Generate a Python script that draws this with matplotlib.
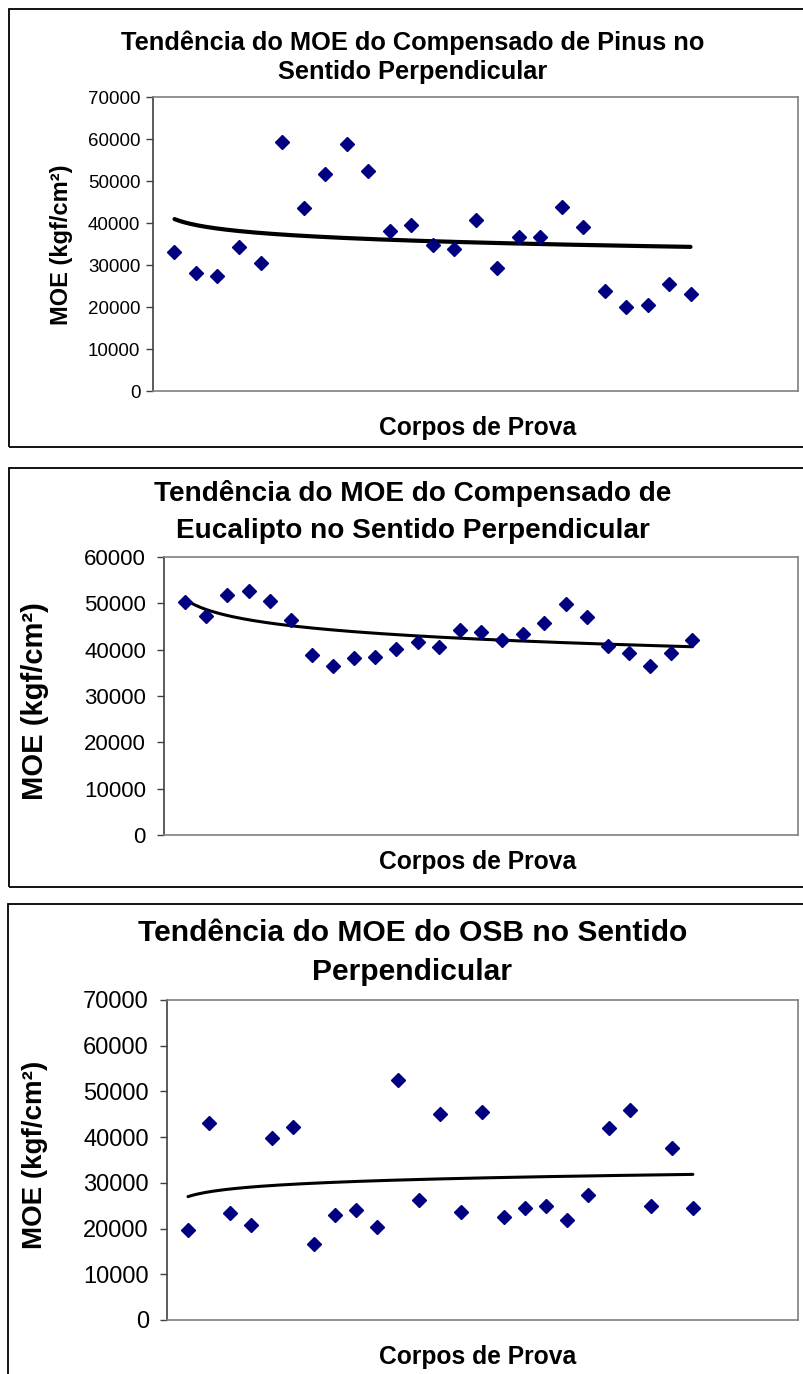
import matplotlib
matplotlib.use("Agg")
import matplotlib.pyplot as plt
import numpy as np

# figure size in pixels
W, H = 804, 1374

# specimen numbers (Corpos de Prova)
corpos = np.arange(1, 26)

# MOE values (kgf/cm2)
moe_pinus = [33000, 28100, 27500, 34300, 30400, 59200, 43500, 51600, 58900, 52300,
             38100, 39600, 34700, 33800, 40700, 29200, 36600, 36600, 43900, 39100,
             23900, 20100, 20500, 25400, 23100]
moe_eucalipto = [50300, 47300, 51900, 52700, 50600, 46300, 38900, 36400, 38100, 38500,
                 40200, 41600, 40500, 44200, 43800, 42100, 43300, 45700, 49900, 47000,
                 40800, 39300, 36400, 39300, 42100]
moe_osb = [19600, 43100, 23300, 20800, 39800, 42300, 16600, 22900, 24100, 20400,
           52600, 26200, 45100, 23700, 45500, 22500, 24600, 25000, 21800, 27400,
           41900, 46000, 25000, 37700, 24500]

titles = ["Tendência do MOE do Compensado de Pinus no\nSentido Perpendicular",
          "Tendência do MOE do Compensado de\nEucalipto no Sentido Perpendicular",
          "Tendência do MOE do OSB no Sentido\nPerpendicular"]
y_max = [70000, 60000, 70000]
ylabel = "MOE (kgf/cm²)"
xlabel = "Corpos de Prova"

plt.rcParams['font.family'] = ['Liberation Sans', 'DejaVu Sans']

fig = plt.figure(figsize=(W / 100, H / 100), dpi=100)


def px_rect(l, t, r, b):
    return [l / W, 1 - b / H, (r - l) / W, (b - t) / H]


def fx(x):
    return x / W


def fy(y):
    return 1 - y / H


# outer chart frames (left, top, right, bottom) in pixels
frames = [(9, 9, 808, 447), (9, 468, 808, 887), (8, 904, 808, 1380)]
for l, t, r, b in frames:
    fig.add_artist(plt.Rectangle((fx(l), fy(b)), (r - l) / W, (b - t) / H,
                                 transform=fig.transFigure, fill=False,
                                 ec='black', lw=1.3))

# plot areas
areas = [(153, 97, 798, 391), (164, 557, 798, 835), (167, 1000, 798, 1320)]
tick_fs = [13.5, 16, 17]
tick_pad = [4, 8, 8]
title_fs = [18.3, 20.2, 21.6]
title_y = [(43, 72), (493, 531), (933, 972)]
ylab_pos = [(62, 245), (35, 701), (35, 1155)]
ylab_fs = [17, 21, 20]
xlab_y = [428, 862, 1357]
lws = [3.0, 2.2, 2.2]

datasets = [moe_pinus, moe_eucalipto, moe_osb]

for i, vals in enumerate(datasets):
    ax = fig.add_axes(px_rect(*areas[i]))
    vals = np.array(vals, dtype=float)
    ax.plot(corpos, vals, linestyle='none', marker='D', ms=7.5,
            color='#000080', zorder=3)

    # logarithmic trend line fitted to the data
    b, a = np.polyfit(np.log(corpos), vals, 1)
    xx = np.linspace(1, 25, 200)
    ax.plot(xx, a + b * np.log(xx), color='black', lw=lws[i],
            solid_capstyle='round', zorder=2)

    ax.set_xlim(0, 30)
    ax.set_ylim(0, y_max[i])
    ax.set_yticks(np.arange(0, y_max[i] + 1, 10000))
    ax.set_xticks([])
    for s in ax.spines.values():
        s.set_color('#808080')
        s.set_linewidth(1.2)
    ax.spines['left'].set_color('#404040')
    ax.tick_params(axis='y', direction='out', length=5, width=1,
                   color='#404040', labelsize=tick_fs[i], pad=tick_pad[i])

    l1, l2 = titles[i].split('\n')
    fig.text(0.513, fy(title_y[i][0]), l1, ha='center', va='center',
             fontsize=title_fs[i], fontweight='bold')
    fig.text(0.513, fy(title_y[i][1]), l2, ha='center', va='center',
             fontsize=title_fs[i], fontweight='bold')

    fig.text(fx(ylab_pos[i][0]), fy(ylab_pos[i][1]), ylabel, rotation=90,
             ha='center', va='center', fontsize=ylab_fs[i], fontweight='bold')
    fig.text(fx(478), fy(xlab_y[i]), xlabel, ha='center', va='center',
             fontsize=17.7, fontweight='bold')

fig.savefig("out.png", dpi=100)
